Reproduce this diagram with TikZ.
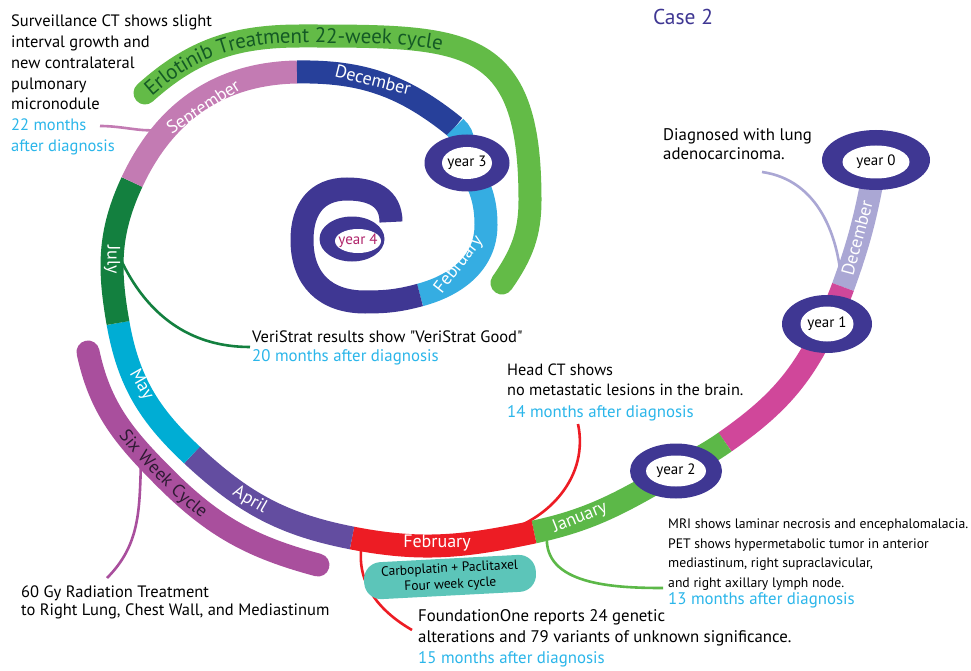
\documentclass[tikz,border=0pt]{standalone}
\usepackage{fontspec}
\setmainfont{PT Sans}
\usetikzlibrary{positioning,shapes.geometric,decorations.text}

\definecolor{ringblue}{RGB}{63,55,147}
\definecolor{lavender}{RGB}{170,167,212}
\definecolor{magentab}{RGB}{208,71,154}
\definecolor{greenb}{RGB}{92,184,72}
\definecolor{erlob}{RGB}{99,187,71}
\definecolor{redb}{RGB}{237,28,36}
\definecolor{aprilb}{RGB}{99,77,160}
\definecolor{mayb}{RGB}{0,173,212}
\definecolor{julyb}{RGB}{19,128,63}
\definecolor{septb}{RGB}{195,123,179}
\definecolor{decb}{RGB}{39,64,154}
\definecolor{lightb}{RGB}{53,173,226}
\definecolor{sixb}{RGB}{169,79,157}
\definecolor{tealb}{RGB}{92,197,185}
\definecolor{cyantext}{RGB}{43,182,234}
\definecolor{erlotext}{RGB}{20,90,37}
\definecolor{sixtext}{RGB}{46,26,51}
\definecolor{yearfour}{RGB}{176,35,106}

\begin{document}
\begin{tikzpicture}[x=1pt, y=1pt,
  band/.style={line width=23pt},
  conn/.style={line width=2.6pt},
  yring/.style={ellipse, fill=ringblue, inner sep=0pt},
  yhole/.style={ellipse, fill=white, inner sep=0pt},
  yearlbl/.style={inner sep=0pt, font=\fontsize{15}{15}\selectfont},
  month/.style={text=white, inner sep=0pt, font=\fontsize{18}{18}\selectfont},
  note/.style={anchor=north west, align=left, inner sep=0pt},
  months/.style={note, text=cyantext, font=\fontsize{16.8}{20}\selectfont}
]
\fill[white] (0,0) rectangle (971,-671);
\useasboundingbox (0,0) rectangle (971,-671);

% year centres and band joints
\coordinate (c0) at (876,-160);
\coordinate (c1) at (827,-324);
\coordinate (c2) at (676,-471);
\coordinate (c3) at (467,-163);
\coordinate (c4) at (352,-239);
\coordinate (dp) at (843,-287);
\coordinate (mg) at (725,-442);
\coordinate (jf) at (534,-532);
\coordinate (fa) at (352,-538);
\coordinate (am) at (192,-455);
\coordinate (mj) at (118,-323);
\coordinate (js) at (132,-182);
\coordinate (sd) at (297,-72);
\coordinate (dl) at (455,-127);
\coordinate (lb) at (486,-225);
\coordinate (fi) at (420,-295);
\coordinate (ib) at (365,-302);
\coordinate (il) at (302,-240);
\coordinate (it) at (347,-189);
\coordinate (ie) at (391,-222);

% connector ends
\coordinate (s1) at (100,-126);  \coordinate (s2) at (182,-122);
\coordinate (d1) at (762,-172);  \coordinate (d2) at (842,-292);
\coordinate (v1) at (250,-347);  \coordinate (v2) at (120,-258);
\coordinate (h1) at (578,-424);  \coordinate (h2) at (500,-533);
\coordinate (f1) at (412,-630);  \coordinate (f2) at (362,-543);
\coordinate (r1) at (663,-588);  \coordinate (r2) at (547,-535);
\coordinate (w1) at (107,-578);  \coordinate (w2) at (141,-462);

% connectors
\draw[conn, septb]    (s1) to[out=0, in=210] (s2);
\draw[conn, lavender] (d1) to[out=-8, in=92] (d2);
\draw[conn, julyb]    (v1) to[out=180, in=-65] (v2);
\draw[conn, redb]     (h1) to[out=-78, in=15] (h2);
\draw[conn, redb]     (f2) to[out=-100, in=150] (f1);
\draw[conn, greenb]   (r2) to[out=-95, in=180] (r1);
\draw[conn, sixb]     (w2) to[out=-92, in=45] (w1);

% treatment bands
\draw[band, erlob, line cap=round] (145,-93) to[out=42, in=180] (300,-36)
  to[out=0, in=90, looseness=1.5] (530,-200) to[out=-90, in=55] (502,-283);
\path[decorate, decoration={text along path, text align={left indent=3pt}, raise=-7pt,
  text={|\fontsize{21}{21}\selectfont\color{erlotext}|Erlotinib Treatment 22-week cycle}}]
  (145,-93) to[out=42, in=180] (300,-36) to[out=0, in=90, looseness=1.5] (530,-200);

\draw[band, sixb, line cap=round] (88,-352) to[out=-78, in=135] (165,-478)
  to[out=-45, in=165] (318,-565);
\path[decorate, decoration={text along path, text align={left indent=88pt}, raise=-6pt,
  text={|\fontsize{18}{18}\selectfont\color{sixtext}|Six Week Cycle}}]
  (88,-352) to[out=-78, in=135] (165,-478) to[out=-45, in=165] (318,-565);

\node[fill=tealb, rounded corners=17pt, minimum width=172pt, minimum height=37pt,
  rotate=3, align=center, font=\fontsize{13.5}{16}\selectfont] (carbo) at (450,-577)
  {Carboplatin + Paclitaxel\\Four week cycle};

% timeline spiral
\draw[band, lavender] (c0) to[out=-100, in=70] (dp);
\draw[band, magentab] (dp) to[out=-110, in=65] (c1);
\draw[band, magentab] (c1) to[out=-115, in=35] (mg);
\draw[band, greenb]   (mg) to[out=-145, in=30] (c2);
\draw[band, greenb]   (c2) to[out=-150, in=12] (jf);
\draw[band, redb]     (jf) to[out=192, in=-11] (fa);
\draw[band, aprilb]   (fa) to[out=169, in=-43] (am);
\draw[band, mayb]     (am) to[out=137, in=-80] (mj);
\draw[band, julyb]    (mj) to[out=100, in=-115] (js);
\draw[band, septb]    (js) to[out=65, in=-179] (sd);
\draw[band, decb]     (sd) to[out=1, in=141] (dl);
\draw[band, lightb]   (dl) to[out=-39, in=110] (c3);
\draw[band, lightb]   (c3) to[out=-60, in=90] (lb) to[out=-90, in=15] (fi);
\draw[band, ringblue] (fi) to[out=195, in=0] (ib)
  to[out=180, in=-90, looseness=1.15] (il) to[out=90, in=180, looseness=1.15] (it)
  to[out=0, in=90, looseness=1.15] (ie);

% year rings
\node[yring, minimum width=108pt, minimum height=60pt] (y0) at (c0) {};
\node[yhole, minimum width=67pt, minimum height=33pt] (y0h) at ([yshift=-2pt]c0) {};
\node[yring, minimum width=90pt, minimum height=58pt] (y1) at (c1) {};
\node[yhole, minimum width=53pt, minimum height=35pt] (y1h) at (c1) {};
\node[yring, minimum width=92pt, minimum height=55pt] (y2) at (c2) {};
\node[yhole, minimum width=60pt, minimum height=31pt] (y2h) at (c2) {};
\node[yring, minimum width=85pt, minimum height=57pt] (y3) at (c3) {};
\node[yhole, minimum width=50pt, minimum height=32pt] (y3h) at (c3) {};
\node[yring, minimum width=65pt, minimum height=45pt] (y4) at (c4) {};
\node[yhole, minimum width=46pt, minimum height=24pt] (y4h) at ([xshift=6pt,yshift=-2pt]c4) {};
\node[yearlbl] (y0t) at (y0h) {year 0};
\node[yearlbl] (y1t) at (y1h) {year 1};
\node[yearlbl] (y2t) at (y2h) {year 2};
\node[yearlbl] (y3t) at (y3h) {year 3};
\node[yearlbl, text=yearfour] (y4t) at (y4h) {year 4};

% month labels
\node[month, rotate=75]  (ldec0) at (857,-238) {December};
\node[month, rotate=22]  (ljan)  at (580,-518) {January};
\node[month]             (lfeb)  at (437,-543) {February};
\node[month, rotate=-30] (lapr)  at (250,-500) {April};
\node[month, rotate=-60] (lmay)  at (141,-385) {May};
\node[month, rotate=-90] (ljul)  at (112,-260) {July};
\node[month, rotate=33]  (lsep)  at (204,-108) {September};
\node[month, rotate=-14] (ldec)  at (373,-80)  {December};
\node[month, rotate=52]  (lfeb2) at (459,-265) {February};

% notes
\node[font=\fontsize{21.5}{21.5}\selectfont, text=ringblue] (title) at (683,-17) {Case 2};
\node[note, font=\fontsize{16.5}{20.7}\selectfont] (surv) at (11,-15)
  {Surveillance CT shows slight\\interval growth and\\new contralateral\\pulmonary\\micronodule};
\node[months, font=\fontsize{16.5}{20.7}\selectfont] (m22) at (11,-119) {22 months\\after diagnosis};
\node[note, font=\fontsize{16.8}{19.5}\selectfont] (diag) at (663,-128)
  {Diagnosed with lung\\adenocarcinoma.};
\node[note, font=\fontsize{16.5}{20}\selectfont] (veri) at (252,-331)
  {VeriStrat results show \textquotedbl VeriStrat Good\textquotedbl};
\node[months, below=6pt of veri.south west, anchor=north west] (m20) {20 months after diagnosis};
\node[note, font=\fontsize{16.3}{20}\selectfont] (head) at (507,-364)
  {Head CT shows\\no metastatic lesions in the brain.};
\node[months] (m14) at (507,-405) {14 months after diagnosis};
\node[note, font=\fontsize{16.8}{21}\selectfont] (found) at (418,-609)
  {FoundationOne reports 24 genetic\\alterations and 79 variants of unknown significance.};
\node[months] (m15) at (418,-651) {15 months after diagnosis};
\node[note, font=\fontsize{13.7}{19.5}\selectfont] (mri) at (668,-519)
  {MRI shows laminar necrosis and encephalomalacia.\\PET shows hypermetabolic tumor in anterior\\mediastinum, right supraclavicular,\\and right axillary lymph node.};
\node[months] (m13) at (668,-592) {13 months after diagnosis};
\node[note, font=\fontsize{16.5}{17.5}\selectfont] (gy) at (21,-586)
  {60 Gy Radiation Treatment\\to Right Lung, Chest Wall, and Mediastinum};
\end{tikzpicture}
\end{document}
